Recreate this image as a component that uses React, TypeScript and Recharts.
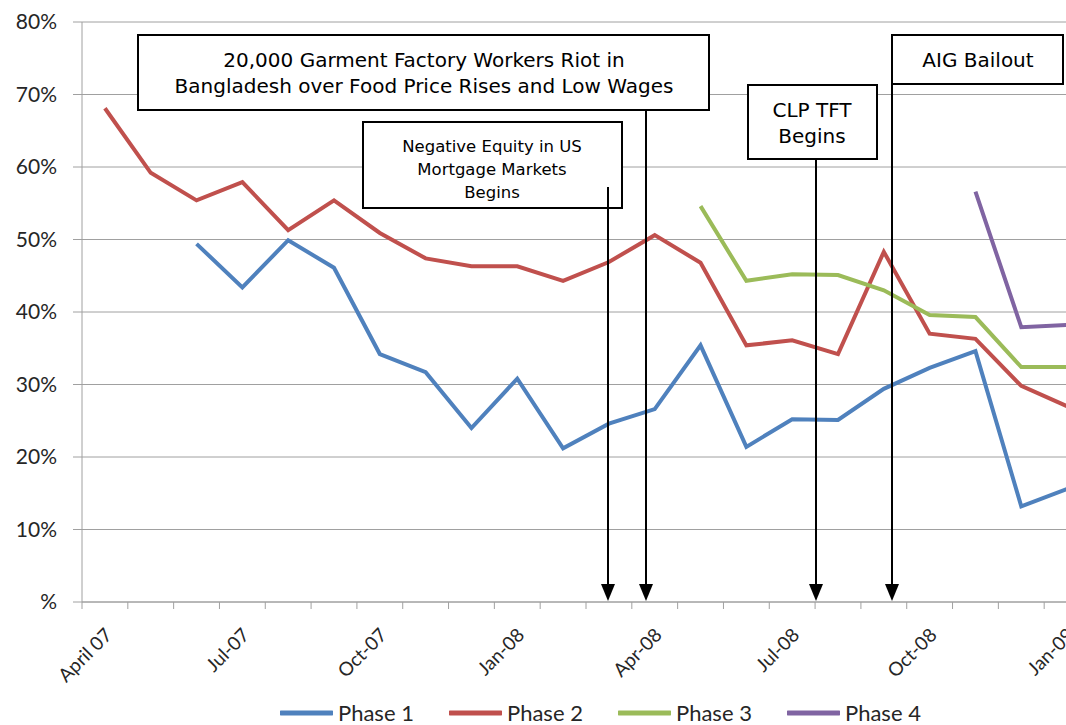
import React from "react";
import { LineChart, Line, XAxis, YAxis, CartesianGrid } from "recharts";

const months = [
  "April 07", "May-07", "Jun-07", "Jul-07", "Aug-07", "Sep-07", "Oct-07", "Nov-07",
  "Dec-07", "Jan-08", "Feb-08", "Mar-08", "Apr-08", "May-08", "Jun-08", "Jul-08",
  "Aug-08", "Sep-08", "Oct-08", "Nov-08", "Dec-08", "Jan-09",
];

// values in percent, null = phase not running yet
const phase1 = [null, null, 49.4, 43.4, 49.9, 46.1, 34.2, 31.7, 24.0, 30.8, 21.2, 24.6, 26.6, 35.4, 21.4, 25.2, 25.1, 29.4, 32.3, 34.6, 13.2, 15.6];
const phase2 = [68.1, 59.2, 55.4, 57.9, 51.3, 55.4, 50.9, 47.4, 46.3, 46.3, 44.3, 46.9, 50.6, 46.8, 35.4, 36.1, 34.2, 48.3, 37.0, 36.3, 29.8, 27.0];
const phase3 = [null, null, null, null, null, null, null, null, null, null, null, null, null, 54.6, 44.3, 45.2, 45.1, 43.0, 39.6, 39.3, 32.4, 32.4];
const phase4 = [null, null, null, null, null, null, null, null, null, null, null, null, null, null, null, null, null, null, null, 56.6, 37.9, 38.2];

const seriesNames = ["Phase 1", "Phase 2", "Phase 3", "Phase 4"];
const seriesKeys = ["p1", "p2", "p3", "p4"];
const seriesColors = ["#4F81BD", "#C0504D", "#9BBB59", "#8064A2"];

const yTicks = [0, 10, 20, 30, 40, 50, 60, 70, 80];

const data = months.map((month, i) => ({
  month,
  p1: phase1[i],
  p2: phase2[i],
  p3: phase3[i],
  p4: phase4[i],
}));

const CHART_W = 1100;
const CHART_H = 725;
const MARGIN = { top: 22, right: 10, left: 0, bottom: 0 };
const Y_W = 82;
const STEP = (CHART_W - MARGIN.left - MARGIN.right - Y_W) / months.length;
const GRID = "#a0a0a0";
const TEXT = "#262626";
const FONT = "Lato, 'Open Sans', sans-serif";
const NOTE_FONT = "'DejaVu Sans', 'Open Sans', sans-serif";

const XTick = (props: any) => {
  const { x, y, payload, index } = props;
  const tx = x + 3;
  const ty = y + 29;
  return (
    <g>
      <line x1={x - STEP / 2} y1={y} x2={x - STEP / 2} y2={y + 7} stroke={GRID} strokeWidth={1} />
      {index % 3 === 0 && (
        <text
          x={tx}
          y={ty}
          transform={`rotate(-45, ${tx}, ${ty})`}
          textAnchor="end"
          dominantBaseline="central"
          fontSize={19}
          fontFamily={FONT}
          fill={TEXT}
        >
          {payload.value}
        </text>
      )}
    </g>
  );
};

const Arrow = ({ x, y1 }: { x: number; y1: number }) => (
  <g>
    <line x1={x} y1={y1} x2={x} y2={588} stroke="#000" strokeWidth={2} />
    <polygon points={`${x - 7},${584} ${x + 7},${584} ${x},${601}`} fill="#000" />
  </g>
);

const Box = ({ x, y, w, h }: { x: number; y: number; w: number; h: number }) => (
  <rect x={x} y={y} width={w} height={h} fill="#fff" stroke="#000" strokeWidth={2} />
);

export default function App() {
  return (
    <div
      style={{
        position: "fixed",
        left: 0,
        top: 0,
        width: 1066,
        height: 725,
        overflow: "hidden",
        background: "#fff",
      }}
    >
      <LineChart width={CHART_W} height={CHART_H} data={data} margin={MARGIN}>
        <CartesianGrid vertical={false} stroke={GRID} />
        <XAxis
          dataKey="month"
          interval={0}
          height={CHART_H - MARGIN.top - 580}
          padding={{ left: STEP / 2, right: STEP / 2 }}
          tickLine={false}
          tickSize={0}
          tickMargin={0}
          axisLine={{ stroke: GRID }}
          tick={(p: any) => <XTick {...p} />}
        />
        <YAxis
          width={Y_W}
          domain={[0, 80]}
          ticks={yTicks}
          interval={0}
          tickSize={9}
          tickMargin={16}
          tickLine={{ stroke: GRID }}
          axisLine={{ stroke: GRID }}
          tick={{ fontSize: 21, fill: TEXT, fontFamily: FONT }}
          tickFormatter={(v: number) => (v === 0 ? "%" : `${v}%`)}
        />
        {seriesKeys.map((k, i) => (
          <Line
            key={k}
            type="linear"
            dataKey={k}
            name={seriesNames[i]}
            stroke={seriesColors[i]}
            strokeWidth={4}
            dot={false}
            activeDot={false}
            connectNulls={false}
            isAnimationActive={false}
          />
        ))}
      </LineChart>

      {/* event annotations drawn on top of the plot */}
      <svg
        width={1066}
        height={725}
        style={{ position: "absolute", left: 0, top: 0, pointerEvents: "none" }}
        fontFamily={NOTE_FONT}
        fill="#000"
      >
        <Box x={138} y={35} w={571} h={75} />
        <text x={424} y={60} textAnchor="middle" dominantBaseline="central" fontSize={20}>
          20,000 Garment Factory Workers Riot in
        </text>
        <text x={424} y={86} textAnchor="middle" dominantBaseline="central" fontSize={20}>
          Bangladesh over Food Price Rises and Low Wages
        </text>

        <Box x={363} y={122} w={259} h={86} />
        <text x={492} y={146} textAnchor="middle" dominantBaseline="central" fontSize={16.5}>
          Negative Equity in US
        </text>
        <text x={492} y={169} textAnchor="middle" dominantBaseline="central" fontSize={16.5}>
          Mortgage Markets
        </text>
        <text x={492} y={192} textAnchor="middle" dominantBaseline="central" fontSize={16.5}>
          Begins
        </text>

        <Box x={748} y={85} w={129} h={74} />
        <text x={812} y={110} textAnchor="middle" dominantBaseline="central" fontSize={20}>
          CLP TFT
        </text>
        <text x={812} y={136} textAnchor="middle" dominantBaseline="central" fontSize={20}>
          Begins
        </text>

        <Box x={892} y={35} w={171} h={49} />
        <text x={978} y={60} textAnchor="middle" dominantBaseline="central" fontSize={20}>
          AIG Bailout
        </text>

        <Arrow x={608} y1={187} />
        <Arrow x={646} y1={110} />
        <Arrow x={816} y1={159} />
        <Arrow x={892} y1={84} />
      </svg>

      <div
        style={{
          position: "absolute",
          left: 280,
          top: 700,
          display: "flex",
          fontFamily: FONT,
          fontSize: 22,
          color: TEXT,
          lineHeight: "26px",
        }}
      >
        {seriesNames.map((name, i) => (
          <div key={name} style={{ width: 169, display: "flex", alignItems: "center" }}>
            <svg width={53} height={26}>
              <line x1={1} y1={13} x2={52} y2={13} stroke={seriesColors[i]} strokeWidth={5} strokeLinecap="round" />
            </svg>
            <span style={{ marginLeft: 5, whiteSpace: "nowrap" }}>{name}</span>
          </div>
        ))}
      </div>
    </div>
  );
}
